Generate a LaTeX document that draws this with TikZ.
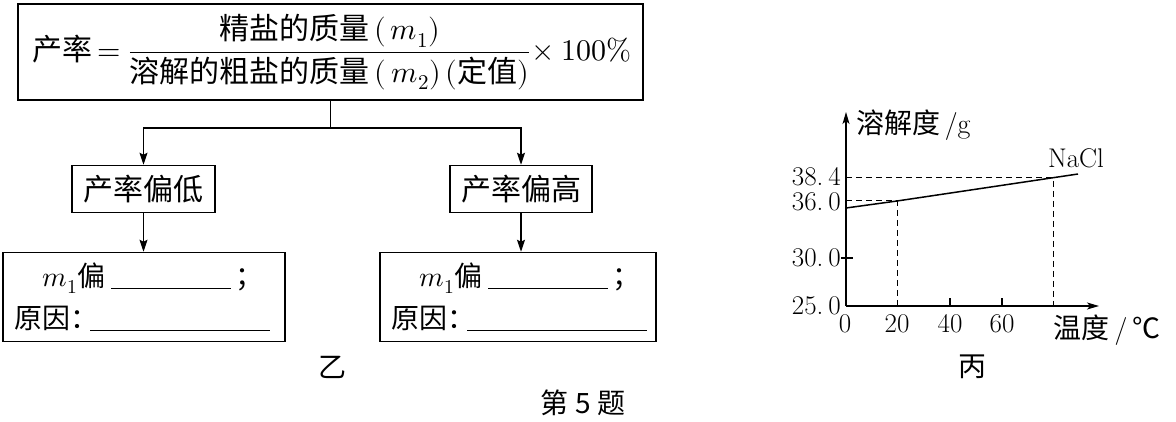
\documentclass[tikz,border=0pt]{standalone}
\usepackage{amsmath}
\usepackage{fontspec}
\usepackage{unicode-math}
\newfontfamily\cjk{Noto Sans CJK SC}
\newcommand{\zh}[1]{{\cjk #1}}
\usetikzlibrary{positioning}
\usetikzlibrary{arrows.meta}
\tikzset{x=1pt, y=-1pt, % One unit per pixel of the layout, y running down
every node/.style={ % Sets the properties for each text
inner sep=0pt,
font=\fontsize{30}{36}\selectfont},
box/.style={ % Frames of the flow chart
draw,
line width=1.5pt},
flow/.style={ % Arrows of the flow chart
draw,
line width=1.2pt,
-{Stealth[length=12pt, width=8pt, inset=2pt]}},
small/.style={font=\fontsize{28}{34}\selectfont},
num/.style={font=\fontsize{27}{32}\selectfont},
axis/.style={line width=1.2pt, -{Stealth[length=12pt, width=7pt, inset=3pt]}},
guide/.style={line width=1pt, dash pattern=on 6pt off 4pt}}

\begin{document}
\begin{tikzpicture}
					\useasboundingbox (0,0) rectangle (1176,422);

					% flow chart
					\node[box, minimum width=625pt, minimum height=96pt] (rate) at (330.5,52) {};
					\node (ratetext) at (332,52) {\zh{产率}$\,=\dfrac{\text{\zh{精盐的质量}}\,(\,m_1)}{\text{\zh{溶解的粗盐的质量}}\,(\,m_2)\,(\text{\zh{定值}})}\!\times100\%$};
					\coordinate (split) at (rate.south |- 0,128);

					\node[box, minimum width=143pt, minimum height=47pt] (low) at (143.5,189) {\zh{产率偏低}};
					\node[box, minimum width=142pt, minimum height=47pt] (high) at (521,189) {\zh{产率偏高}};

					\node[box, minimum width=282pt, minimum height=89pt] (lowcause) at (144,297) {};
					\node[box, minimum width=276pt, minimum height=89pt] (highcause) at (518,297) {};

					\node[small, anchor=base west] (lowm) at ([xshift=40pt, yshift=-34.5pt]lowcause.north west) {$m_1$\zh{偏}\hspace{6pt}\rule[-3pt]{120pt}{0.8pt}\hspace{4pt}\zh{；}};
					\node[small, anchor=base west] (lowwhy) at ([xshift=12pt, yshift=-76.5pt]lowcause.north west) {\zh{原因}\makebox[20pt][l]{\zh{：}}\rule[-3pt]{180pt}{0.8pt}};
					\node[small, anchor=base west] (highm) at ([xshift=40pt, yshift=-34.5pt]highcause.north west) {$m_1$\zh{偏}\hspace{6pt}\rule[-3pt]{120pt}{0.8pt}\hspace{4pt}\zh{；}};
					\node[small, anchor=base west] (highwhy) at ([xshift=12pt, yshift=-76.5pt]highcause.north west) {\zh{原因}\makebox[20pt][l]{\zh{：}}\rule[-3pt]{180pt}{0.8pt}};

					\draw[line width=1.2pt] (rate.south) -- (split);
					\draw[flow] (split) -| (low.north);
					\draw[flow] (split) -| (high.north);
					\draw[flow] (low.south) -- (low.south |- lowcause.north);
					\draw[flow] (high.south) -- (high.south |- highcause.north);

					\node[small] (yi) at (332,367) {\zh{乙}};
					\node[small] (title) at (583,403) {\zh{第 5 题}};

					% solubility graph
					\coordinate (O) at (846,306);
					\coordinate (ytop) at (846,112);
					\coordinate (xend) at (1099,306);
					\coordinate (p20) at (897,201);
					\coordinate (p80) at (1053,178);

					\draw[axis] (O) -- (ytop);
					\draw[axis] (O) -- (xend);
					\draw[line width=1.2pt] (841,258) -- (853,258);
					\foreach \x in {950,1002}
						\draw[line width=1.2pt] (\x,306) -- (\x,298);

					\draw[guide] (O |- p80) -- (p80) -- (p80 |- O);
					\draw[guide] (O |- p20) -- (p20) -- (p20 |- O);
					\draw[line width=1.5pt] (846,208) -- (p20) -- (1078,174);

					\node[num, anchor=east] (l384) at (841,177) {38.\kern5pt 4};
					\node[num, anchor=east] (l360) at (841,202) {36.\kern5pt 0};
					\node[num, anchor=east] (l300) at (841,258) {30.\kern5pt 0};
					\node[num, anchor=east] (l250) at (841,306) {25.\kern5pt 0};
					\node[num, anchor=north] (t0) at (845,314) {0};
					\node[num, anchor=north] (t20) at (897,314) {20};
					\node[num, anchor=north] (t40) at (950,314) {40};
					\node[num, anchor=north] (t60) at (1002,314) {60};

					\node[small, anchor=west] (ylabel) at (856,125) {\zh{溶解度}\,/g};
					\node[num] (nacl) at (1076,158) {NaCl};
					\node[small] (xlabel) at (1107,330) {\zh{温度}\,/\,\zh{℃}};
					\node[small] (bing) at (972,367) {\zh{丙}};
				\end{tikzpicture}
\end{document}
